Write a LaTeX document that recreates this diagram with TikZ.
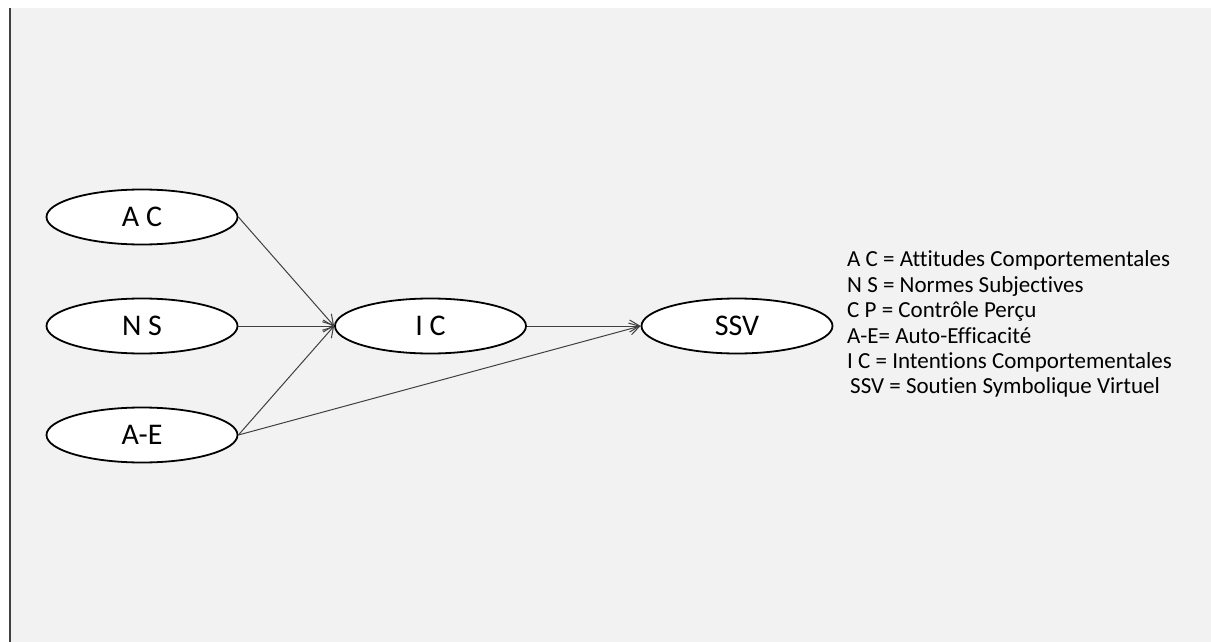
\documentclass[tikz,border=0pt]{standalone}
\usepackage{fontspec}
\setmainfont{Carlito}[Ligatures=CommonOff]
\usetikzlibrary{shapes.geometric,arrows.meta}
\definecolor{bggray}{HTML}{F2F2F2}
\definecolor{linegray}{HTML}{404040}
\tikzset{
  var/.style={ellipse, draw=black, line width=1.8pt, fill=white, minimum width=191pt, minimum height=55pt, inner sep=0pt, text height=19pt, text depth=0pt, font=\fontsize{30}{34}\selectfont},
  link/.style={draw=linegray, line width=1pt, -{Straight Barb[length=10pt,width=12pt,line width=1pt]}},
  legend/.style={anchor=base west, inner sep=0pt, font=\fontsize{23}{26}\selectfont}
}
\begin{document}
\begin{tikzpicture}[x=1pt,y=-1pt]
\useasboundingbox (0,0) rectangle (1211,642);
\fill[white] (0,0) rectangle (1211,642);
\fill[bggray] (10,8) rectangle (1211,642);
\draw[linegray, line width=1.2pt] (10,8) -- (10,642);

\node[var] (ac) at (142,217) {A C};
\node[var] (ns) at (142,326) {N S};
\node[var] (ae) at (142,435) {A-E};
\node[var] (ic) at (430.5,326) {I C};
\node[var] (ssv) at (737,326) {SSV};

\draw[link] (ac.east) -- (ic.west);
\draw[link] (ns.east) -- (ic.west);
\draw[link] (ae.east) -- (ic.west);
\draw[link] (ic.east) -- (ssv.west);
\draw[link] (ae.east) -- (ssv.west);

\node[legend] (l1) at (847,266) {A C = Attitudes Comportementales};
\node[legend] (l2) at (847,292) {N S = Normes Subjectives};
\node[legend] (l3) at (847,317) {C P = Contrôle Perçu};
\node[legend] (l4) at (847,343) {A-E= Auto-Efficacité};
\node[legend] (l5) at (847,368) {I C = Intentions Comportementales};
\node[legend] (l6) at (850,393) {SSV = Soutien Symbolique Virtuel};
\end{tikzpicture}
\end{document}
